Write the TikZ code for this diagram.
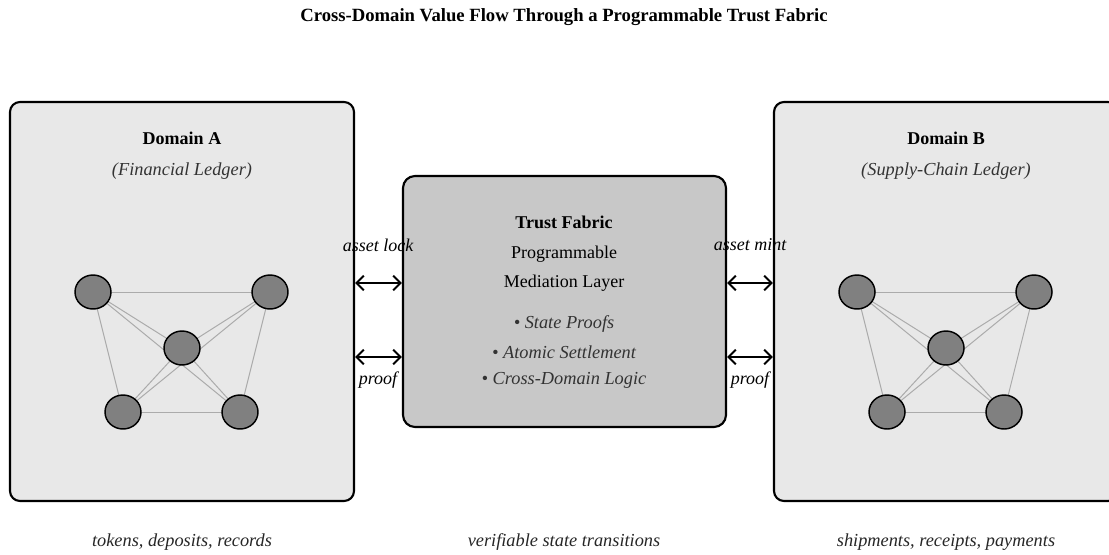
\documentclass[tikz,border=0pt]{standalone}
\usepackage{fontspec}
\setmainfont{Liberation Serif}
\usetikzlibrary{arrows.meta,shapes.geometric}

\definecolor{domainfill}{HTML}{E8E8E8}
\definecolor{fabricfill}{HTML}{C8C8C8}
\definecolor{peerfill}{HTML}{808080}
\definecolor{meshline}{HTML}{ABABAB}
\definecolor{subtext}{HTML}{333333}

\pgfdeclarelayer{boxes}
\pgfdeclarelayer{links}
\pgfsetlayers{boxes,links,main}

\tikzset{
  domainbox/.style={draw=black, line width=1.6pt, fill=domainfill, rounded corners=7.5pt,
    minimum width=258pt, minimum height=299.25pt, inner sep=0pt},
  fabricbox/.style={draw=black, line width=1.6pt, fill=fabricfill, rounded corners=9pt,
    minimum width=242.25pt, minimum height=188.25pt, inner sep=0pt},
  peer/.style={ellipse, draw=black, line width=1.1pt, fill=peerfill,
    minimum width=27pt, minimum height=25.5pt, inner sep=0pt},
  mesh/.style={draw=meshline, line width=0.75pt},
  flow/.style={line width=1.5pt, {Straight Barb[length=5.5pt,width=11pt,line width=1.5pt]}-{Straight Barb[length=5.5pt,width=11pt,line width=1.5pt]}},
  heading/.style={font=\fontsize{13.5}{16}\selectfont\bfseries},
  plain/.style={font=\fontsize{13.5}{16}\selectfont},
  note/.style={font=\fontsize{13.75}{16}\selectfont\itshape, text=subtext},
  edgelabel/.style={font=\fontsize{13.5}{16}\selectfont\itshape, text=black},
}

\begin{document}
\begin{tikzpicture}[x=0.75pt, y=-0.75pt]
\useasboundingbox (0,0) rectangle (1109,554);

% title
\node[font=\fontsize{14}{16}\selectfont\bfseries] (title) at (564,17)
  {Cross-Domain Value Flow Through a Programmable Trust Fabric};

% the three ledgers / layers
\begin{pgfonlayer}{boxes}
\node[domainbox] (domA) at (182,301.5) {};
\node[domainbox] (domB) at (946,301.5) {};
\node[fabricbox] (fabric) at (564.5,301.5) {};
\end{pgfonlayer}

% domain headings
\node[heading] (domAname) at (182,138) {Domain A};
\node[note] (domAsub) at (182,171) {(Financial Ledger)};
\node[heading] (domBname) at (946,138) {Domain B};
\node[note] (domBsub) at (946,171) {(Supply-Chain Ledger)};

% fabric text
\node[heading] (fabname) at (564,222) {Trust Fabric};
\node[plain] (fabl1) at (564,254) {Programmable};
\node[plain] (fabl2) at (564,283) {Mediation Layer};
\node[note] (fabb1) at (564,324) {• State Proofs};
\node[note] (fabb2) at (564,352) {• Atomic Settlement};
\node[note] (fabb3) at (564,380) {• Cross-Domain Logic};

% peer meshes, links kept behind the peers
\foreach \d/\cx in {A/182, B/946} {
  \node[peer] (\d tl) at (\cx-89,292) {};
  \node[peer] (\d tr) at (\cx+88,292) {};
  \node[peer] (\d c)  at (\cx,348) {};
  \node[peer] (\d bl) at (\cx-59,412) {};
  \node[peer] (\d br) at (\cx+58,412) {};
  \begin{pgfonlayer}{links}
  \foreach \u/\v in {tl/tr, tl/c, tl/bl, tl/br, tr/c, tr/bl, tr/br, c/bl, c/br, bl/br}
    \draw[mesh] (\d\u.center) -- (\d\v.center);
  \end{pgfonlayer}
}

% bidirectional flows
\draw[flow] ([yshift=13.875pt]domA.east) -- ([yshift=13.875pt]fabric.west);
\draw[flow] ([yshift=-41.625pt]domA.east) -- ([yshift=-41.625pt]fabric.west);
\draw[flow] ([yshift=13.875pt]fabric.east) -- ([yshift=13.875pt]domB.west);
\draw[flow] ([yshift=-41.625pt]fabric.east) -- ([yshift=-41.625pt]domB.west);

\node[edgelabel] (lockl) at (378,245) {asset lock};
\node[edgelabel] (proofl) at (378,380) {proof};
\node[edgelabel] (mintl) at (750,245) {asset mint};
\node[edgelabel] (proofr) at (750,380) {proof};

% captions
\node[note, text=black!85] (capA) at (182,542) {tokens, deposits, records};
\node[note, text=black!85] (capF) at (564,542) {verifiable state transitions};
\node[note, text=black!85] (capB) at (946,542) {shipments, receipts, payments};
\end{tikzpicture}
\end{document}
